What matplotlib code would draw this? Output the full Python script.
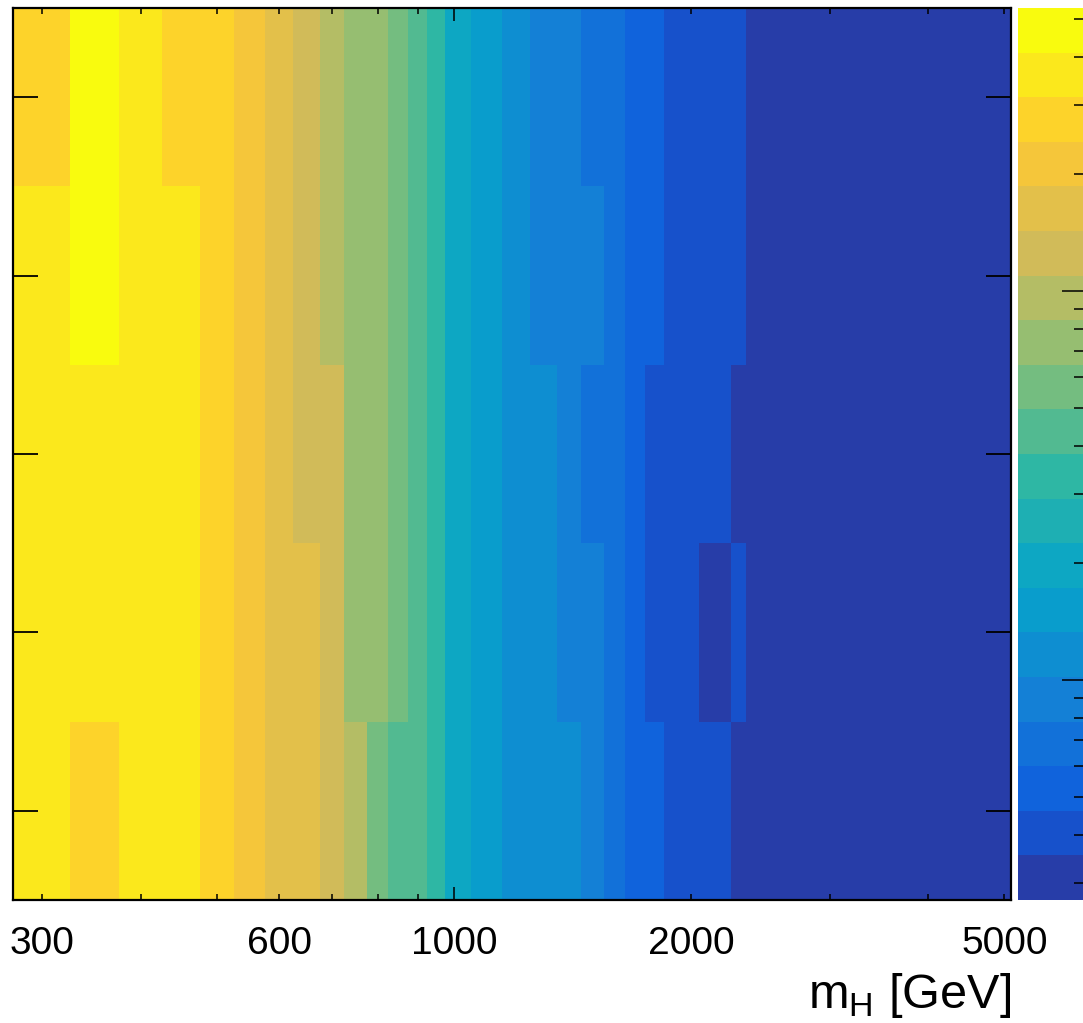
import matplotlib.pyplot as plt
import numpy as np
from matplotlib.colors import ListedColormap, LogNorm
from matplotlib.ticker import FixedLocator, LogLocator, NullFormatter

plt.rcParams['font.family'] = ['Liberation Sans', 'DejaVu Sans']
plt.rcParams['mathtext.fontset'] = 'custom'
plt.rcParams['mathtext.rm'] = 'Liberation Sans'

W, H = 1083, 1023

# bin edges along m_H [GeV]
mass_edges = [275, 325, 375, 425, 475, 525, 575, 625, 675, 725, 775, 825, 875,
              925, 975, 1050, 1150, 1250, 1350, 1450, 1550, 1650, 1750, 1850,
              1950, 2050, 2150, 2250, 2350, 2450, 2850, 4100, 5100]
row_edges = [0, 1, 2, 3, 4, 5]
row_centers = [0.5, 1.5, 2.5, 3.5, 4.5]

# cell contents, one list per row (bottom row first)
row_1 = [36.2, 27.4, 35.8, 36.3, 27.8, 21.1, 16.4, 16.1, 12.6, 9.58, 5.70, 4.33,
         4.38, 3.36, 1.97, 1.51, 1.17, 1.15, 1.16, 0.89, 0.68, 0.53, 0.52, 0.40,
         0.41, 0.40, 0.41, 0.31, 0.30, 0.30, 0.29, 0.29]
row_2 = [36.1, 35.7, 36.4, 35.9, 27.7, 21.3, 16.2, 16.4, 12.5, 7.40, 7.35, 5.65,
         4.36, 3.33, 1.98, 1.52, 1.16, 1.17, 0.90, 0.88, 0.69, 0.53, 0.41, 0.40,
         0.40, 0.31, 0.32, 0.40, 0.30, 0.30, 0.29, 0.29]
row_3 = [35.9, 36.2, 35.8, 36.1, 27.6, 21.2, 16.3, 12.6, 12.4, 7.36, 7.39, 5.68,
         4.34, 3.35, 1.96, 1.51, 1.17, 1.16, 0.89, 0.69, 0.68, 0.53, 0.41, 0.41,
         0.40, 0.40, 0.41, 0.31, 0.30, 0.30, 0.29, 0.29]
row_4 = [36.0, 46.5, 36.1, 35.8, 27.5, 21.2, 16.3, 12.5, 9.62, 7.38, 7.36, 5.66,
         4.35, 3.34, 1.97, 1.50, 1.16, 0.90, 0.89, 0.88, 0.69, 0.53, 0.52, 0.41,
         0.40, 0.40, 0.41, 0.40, 0.31, 0.30, 0.29, 0.29]
row_5 = [27.6, 46.9, 36.0, 27.7, 27.5, 21.1, 16.2, 12.6, 9.58, 7.37, 7.40, 5.67,
         4.34, 3.33, 1.96, 1.52, 1.17, 0.89, 0.90, 0.68, 0.69, 0.52, 0.53, 0.40,
         0.41, 0.41, 0.40, 0.40, 0.31, 0.30, 0.29, 0.29]

z_min, z_max = 0.272, 53.4
n_contours = 20

# ROOT kBird palette, picked per contour the way THistPainter does it
stops = [0.0, 0.125, 0.25, 0.375, 0.5, 0.625, 0.75, 0.875, 1.0]
red = [0.2082, 0.0592, 0.0780, 0.0232, 0.1802, 0.5301, 0.8186, 0.9956, 0.9764]
green = [0.1664, 0.3599, 0.5041, 0.6419, 0.7178, 0.7492, 0.7328, 0.7862, 0.9832]
blue = [0.5293, 0.8684, 0.8385, 0.7914, 0.6425, 0.4662, 0.3499, 0.1968, 0.0539]
colors = []
for i in range(n_contours):
    t = int((i + 0.99) * 255 / n_contours) / 254
    colors.append((np.interp(t, stops, red), np.interp(t, stops, green),
                   np.interp(t, stops, blue)))
cmap = ListedColormap(colors)

z = np.array([row_1, row_2, row_3, row_4, row_5])

fig = plt.figure(figsize=(W / 100, H / 100), dpi=100)
ax = fig.add_axes([12.7 / W, 1 - 900 / H, (1011 - 12.7) / W, 892 / H])
mesh = ax.pcolormesh(mass_edges, row_edges, z, cmap=cmap,
                     norm=LogNorm(vmin=z_min, vmax=z_max))
ax.set_xscale('log')
ax.set_xlim(mass_edges[0], mass_edges[-1])
ax.set_ylim(row_edges[0], row_edges[-1])

for s in ax.spines.values():
    s.set_linewidth(1.6)

ax.set_xticks([1000], labels=['1000'])
minor_ticks = [300, 400, 500, 600, 700, 800, 900, 2000, 3000, 4000, 5000]
minor_labels = ['300', '', '', '600', '', '', '', '2000', '', '', '5000']
ax.set_xticks(minor_ticks, labels=minor_labels, minor=True)
ax.set_yticks(row_centers)
ax.yaxis.set_minor_locator(FixedLocator([]))
ax.tick_params(which='both', direction='in', top=True, right=True,
               labelleft=False, labelsize=28, pad=19, color='black')
ax.tick_params(axis='x', which='major', length=9.5, width=1.1)
ax.tick_params(axis='x', which='minor', length=4.2, width=1.1)
ax.tick_params(axis='y', which='major', length=18, width=1.3)

ax.set_xlabel('m$_{\\mathrm{H}}$ [GeV]', fontsize=35, ha='right', va='baseline')
ax.xaxis.set_label_coords(1.0, -(1008 - 900) / 892)

# palette on the right
cax = fig.add_axes([1017.5 / W, 1 - 900 / H, (1084 - 1017.5) / W, 892 / H])
cbar = fig.colorbar(mesh, cax=cax)
cbar.outline.set_visible(False)
cax.yaxis.set_ticks_position('right')
cax.yaxis.set_major_locator(LogLocator(base=10))
cax.yaxis.set_minor_locator(LogLocator(base=10, subs=np.arange(2, 10)))
cax.yaxis.set_minor_formatter(NullFormatter())
cax.tick_params(which='both', direction='in', labelright=False, width=1.1)
cax.tick_params(which='major', length=16)
cax.tick_params(which='minor', length=7)

fig.savefig('out.png', dpi=100)
